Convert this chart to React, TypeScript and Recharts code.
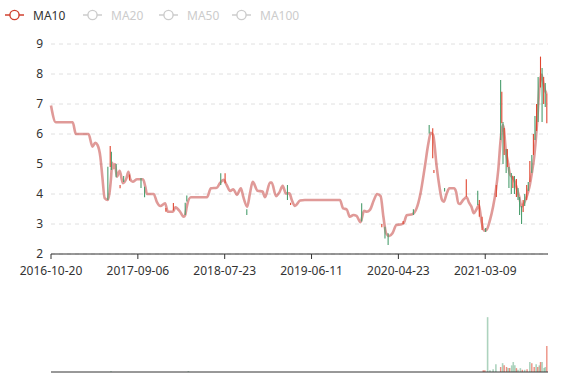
import { ComposedChart, Line, Scatter, ErrorBar, XAxis, YAxis, CartesianGrid } from "recharts";

// trading-day index on the x axis
const tickDays = [0, 220, 440, 660, 880, 1100];
const tickLabels = ["2016-10-20", "2017-09-06", "2018-07-23", "2019-06-11", "2020-04-23", "2021-03-09"];
const lastDay = 1259;
const priceTicks = [2, 3, 4, 5, 6, 7, 8, 9];

const maDays = [0, 12, 55, 63, 95, 105, 112, 118, 125, 130, 136, 144, 148, 152, 155, 158, 162, 167, 174, 182, 191, 196, 201, 207, 218, 233, 239, 243, 260, 268, 277, 289, 296, 309, 315, 320, 327, 336, 340, 344, 354, 395, 405, 420, 428, 437, 445, 454, 462, 471, 481, 487, 497, 504, 511, 523, 536, 542, 555, 559, 570, 578, 587, 595, 604, 610, 618, 631, 643, 732, 740, 749, 757, 766, 774, 784, 793, 800, 808, 818, 826, 835, 842, 849, 857, 865, 875, 888, 894, 901, 916, 926, 936, 947, 956, 962, 968, 977, 984, 990, 995, 1002, 1009, 1021, 1026, 1032, 1036, 1044, 1053, 1059, 1065, 1071, 1078, 1084, 1090, 1097, 1103, 1112, 1120, 1127, 1133, 1139, 1144, 1147, 1152, 1158, 1162, 1167, 1173, 1179, 1186, 1192, 1198, 1205, 1212, 1218, 1224, 1230, 1234, 1239, 1243, 1247, 1251, 1255];
const ma10 = [6.95, 6.39, 6.39, 6.0, 6.0, 5.58, 5.71, 5.63, 5.24, 4.58, 3.86, 3.8, 4.02, 4.52, 5.04, 4.86, 5.0, 4.58, 4.77, 4.36, 4.52, 4.74, 4.49, 4.41, 4.49, 4.49, 4.24, 4.0, 4.0, 3.74, 3.6, 3.69, 3.41, 3.41, 3.56, 3.52, 3.41, 3.24, 3.3, 3.58, 3.89, 3.89, 4.19, 4.21, 4.36, 4.47, 4.3, 4.1, 4.16, 3.97, 4.19, 3.91, 3.58, 4.02, 4.41, 4.11, 4.08, 3.89, 4.38, 4.38, 3.93, 4.04, 4.27, 4.02, 4.02, 3.8, 3.6, 3.78, 3.8, 3.8, 3.52, 3.49, 3.24, 3.3, 3.27, 3.06, 3.44, 3.41, 3.47, 3.8, 4.0, 3.93, 3.24, 2.69, 2.6, 2.69, 2.97, 2.99, 3.04, 3.29, 3.33, 3.52, 4.02, 4.91, 5.69, 6.04, 5.97, 4.91, 4.24, 3.82, 3.74, 4.0, 4.19, 4.19, 4.08, 3.69, 3.67, 3.8, 3.89, 3.71, 3.58, 3.36, 3.49, 3.63, 3.13, 2.78, 2.8, 3.13, 3.58, 4.13, 4.8, 5.8, 6.3, 6.19, 5.47, 5.02, 4.69, 4.58, 4.47, 4.24, 3.91, 3.58, 3.69, 3.91, 4.24, 4.69, 5.24, 6.13, 6.91, 7.8, 7.97, 7.69, 7.47, 7.36];

// candles: only the ones that show outside the MA line
const candleDays = [144, 150, 153, 165, 175, 184, 199, 228, 237, 291, 310, 340, 344, 430, 441, 496, 599, 607, 787, 838, 846, 854, 892, 918, 958, 967, 970, 997, 1052, 1081, 1085, 1092, 1101, 1128, 1139, 1142, 1145, 1148, 1153, 1156, 1160, 1166, 1170, 1174, 1179, 1183, 1187, 1192, 1196, 1200, 1205, 1209, 1213, 1218, 1222, 1226, 1230, 1234, 1240, 1244, 1248, 1252, 1256];
const candleLow = [3.8, 4.9, 4.8, 4.56, 4.19, 4.4, 4.45, 4.2, 3.89, 3.41, 3.45, 3.3, 3.75, 4.3, 4.36, 3.3, 3.8, 3.63, 3.08, 2.89, 2.52, 2.3, 3.0, 3.3, 6.02, 5.19, 4.7, 4.08, 3.91, 3.63, 3.24, 2.8, 2.73, 3.9, 5.8, 6.36, 5.0, 5.3, 4.7, 4.9, 4.2, 4.0, 4.2, 4.0, 3.9, 3.8, 3.3, 3.0, 3.4, 3.6, 3.8, 4.1, 4.4, 4.7, 5.3, 5.8, 6.1, 6.4, 7.55, 6.4, 7.0, 6.9, 6.36];
const candleHigh = [4.91, 5.6, 5.41, 5.0, 4.3, 4.6, 4.65, 4.53, 4.24, 3.53, 3.7, 3.71, 3.95, 4.69, 4.69, 3.49, 4.3, 3.71, 3.69, 3.0, 2.91, 2.69, 3.1, 3.49, 6.3, 6.19, 4.8, 4.2, 4.49, 4.11, 3.8, 3.24, 2.87, 4.3, 7.8, 7.41, 6.4, 6.2, 5.5, 5.5, 4.9, 4.7, 4.6, 4.6, 4.5, 4.2, 3.9, 3.6, 3.8, 4.0, 4.3, 4.4, 5.1, 5.3, 6.0, 6.6, 7.0, 7.9, 8.58, 8.2, 7.9, 7.7, 7.36];
const candleUp = [0, 1, 0, 0, 1, 0, 1, 0, 0, 1, 1, 0, 0, 0, 1, 0, 0, 1, 0, 1, 0, 0, 1, 0, 0, 1, 1, 0, 1, 0, 1, 1, 0, 1, 0, 1, 0, 1, 0, 1, 0, 0, 1, 0, 1, 0, 0, 0, 1, 0, 1, 0, 1, 0, 1, 0, 1, 0, 1, 0, 1, 0, 1];

const volDays = [152, 348, 1095, 1099, 1106, 1112, 1120, 1127, 1139, 1144, 1148, 1154, 1158, 1162, 1167, 1171, 1175, 1179, 1183, 1189, 1194, 1200, 1206, 1213, 1218, 1224, 1229, 1233, 1237, 1240, 1244, 1249, 1252, 1256];
const volValues = [1.5, 1.5, 3, 3, 99, 3, 5, 14, 9, 16, 12, 9, 7, 7, 12, 18, 12, 7, 4, 7, 4, 4, 5, 18, 16, 9, 14, 9, 12, 18, 18, 7, 9, 47];
const volUp = [0, 0, 1, 1, 0, 0, 0, 0, 1, 0, 1, 1, 0, 1, 0, 0, 0, 1, 0, 0, 1, 0, 1, 0, 1, 1, 0, 1, 0, 1, 0, 0, 0, 1];

const RED = "#e0452f";
const GREEN = "#4a9e6e";

const maData = maDays.map((t, i) => ({ t, v: ma10[i] }));
const candles = candleDays.map((t, i) => ({
  t, v: candleLow[i], err: [0, +(candleHigh[i] - candleLow[i]).toFixed(2)], up: candleUp[i],
}));
const vols = volDays.map((t, i) => ({ t, v: 0, err: [0, volValues[i]], up: volUp[i] }));

const legendItems = [
  { name: "MA10", left: 2, on: true },
  { name: "MA20", left: 80, on: false },
  { name: "MA50", left: 156, on: false },
  { name: "MA100", left: 229, on: false },
];

const NoDot = () => <g />;
const fmtDay = (t: number) => tickLabels[tickDays.indexOf(t)] ?? "";

export default function App() {
  return (
    <div style={{ position: "absolute", left: 0, top: 0, width: 577, height: 380, background: "#fff", fontFamily: "'Noto Sans', sans-serif" }}>
      {legendItems.map((it) => {
        const c = it.on ? "#d0402f" : "#ccc";
        return (
          <div key={it.name} style={{ position: "absolute", left: it.left, top: 8, height: 14, display: "flex", alignItems: "center", fontSize: 12, color: it.on ? "#333" : "#ccc" }}>
            <svg width={25} height={14} style={{ marginRight: 6 }}>
              <line x1={3} y1={7} x2={22} y2={7} stroke={c} strokeWidth={1.5} />
              <circle cx={12.5} cy={7} r={4.6} fill="#fff" stroke={c} strokeWidth={1.4} />
            </svg>
            <span>{it.name}</span>
          </div>
        );
      })}

      <div style={{ position: "absolute", left: 0, top: 0 }}>
        <ComposedChart width={577} height={284} data={maData} margin={{ top: 44, right: 29, bottom: 0, left: 0 }}>
          <CartesianGrid vertical={false} stroke="#e0e0e0" strokeDasharray="4 4" />
          <XAxis dataKey="t" type="number" domain={[0, lastDay]} ticks={tickDays} interval={0} tickFormatter={fmtDay}
            stroke="#333" tick={{ fill: "#333", fontSize: 12 }} tickSize={5} tickMargin={7} height={30} />
          <YAxis dataKey="v" type="number" domain={[2, 9]} ticks={priceTicks} axisLine={false} tickLine={false}
            width={51} tick={{ fill: "#333", fontSize: 12 }} />
          <Line type="monotone" dataKey="v" stroke="#c23531" strokeOpacity={0.5} strokeWidth={2.6} dot={false} activeDot={false} isAnimationActive={false} />
          <Scatter data={candles.filter((c) => !c.up)} shape={NoDot} isAnimationActive={false}>
            <ErrorBar dataKey="err" direction="y" width={0} stroke={GREEN} strokeWidth={1.1} />
          </Scatter>
          <Scatter data={candles.filter((c) => c.up)} shape={NoDot} isAnimationActive={false}>
            <ErrorBar dataKey="err" direction="y" width={0} stroke={RED} strokeWidth={1.1} />
          </Scatter>
        </ComposedChart>
      </div>

      <div style={{ position: "absolute", left: 0, top: 290 }}>
        <ComposedChart width={577} height={90} margin={{ top: 10, right: 29, bottom: 7, left: 51 }}>
          <XAxis dataKey="t" type="number" domain={[0, lastDay]} tick={false} tickLine={false} height={1} stroke="#333" />
          <YAxis dataKey="v" type="number" domain={[0, 130]} hide />
          <Scatter data={vols.filter((c) => !c.up)} shape={NoDot} isAnimationActive={false}>
            <ErrorBar dataKey="err" direction="y" width={0} stroke={GREEN} strokeOpacity={0.45} strokeWidth={1.6} />
          </Scatter>
          <Scatter data={vols.filter((c) => c.up)} shape={NoDot} isAnimationActive={false}>
            <ErrorBar dataKey="err" direction="y" width={0} stroke={RED} strokeOpacity={0.6} strokeWidth={1.4} />
          </Scatter>
        </ComposedChart>
      </div>
    </div>
  );
}
